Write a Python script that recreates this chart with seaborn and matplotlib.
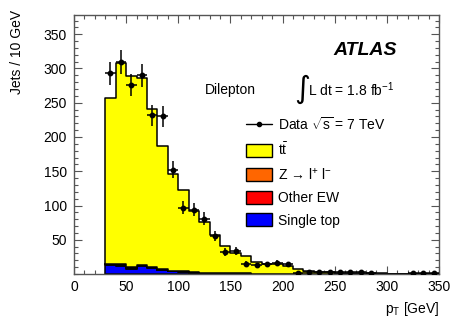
import numpy as np
import pandas as pd
import matplotlib.pyplot as plt
import seaborn as sns
from matplotlib.lines import Line2D
from matplotlib.patches import Patch
from matplotlib.ticker import MultipleLocator

# bins de pT dos jatos (GeV), largura de 10 GeV
bin_edges = [30, 40, 50, 60, 70, 80, 90, 100, 110, 120, 130, 140, 150, 160, 170, 180,
             190, 200, 210, 220, 230, 240, 250, 260, 270, 280, 290, 300, 310, 320, 330, 340, 350]
bin_centers = [35, 45, 55, 65, 75, 85, 95, 105, 115, 125, 135, 145, 155, 165, 175, 185,
               195, 205, 215, 225, 235, 245, 255, 265, 275, 285, 295, 305, 315, 325, 335, 345]

# previsoes (jatos / 10 GeV)
ttbar = [242, 294, 279, 272, 231, 180, 141, 119, 89, 74, 56, 40, 30, 25, 17, 14,
         14, 11.5, 6.7, 4.2, 3.3, 2.3, 1.8, 1.6, 1.4, 1.1, 0.9, 0.7, 0.6, 0.4, 0.3, 0.2]
z_ll = [1.0, 1.2, 1.0, 0.8, 0.7, 0.6, 0.5, 0.4, 0.3, 0.3, 0.2, 0.2, 0.1, 0.1, 0.1, 0.1,
        0.1, 0.1, 0.05, 0.05, 0.05, 0.05, 0, 0, 0, 0, 0, 0, 0, 0, 0, 0]
other_ew = [1.0, 1.0, 0.8, 0.8, 0.6, 0.5, 0.4, 0.3, 0.2, 0.2, 0.2, 0.1, 0.1, 0.1, 0.1, 0.05,
            0.05, 0.05, 0, 0, 0, 0, 0, 0, 0, 0, 0, 0, 0, 0, 0, 0]
single_top = [13, 12, 8, 12, 9, 6, 4, 3.5, 2, 1.5, 1.2, 1.0, 0.8, 0.6, 0.5, 0.4,
              0.3, 0.3, 0.2, 0.2, 0.1, 0.1, 0.1, 0.1, 0.05, 0.05, 0.05, 0.05, 0.05, 0.05, 0.05, 0.05]

# dados observados
data_pt = [35, 45, 55, 65, 75, 85, 95, 105, 115, 125, 135, 145, 155, 165, 175, 185,
           195, 205, 215, 225, 235, 245, 255, 265, 275, 285, 325, 335, 345]
data_n = [293, 309, 276, 290, 232, 230, 152, 97, 94, 81, 56, 32, 33, 15, 13, 14,
          16, 14, 1, 3, 3, 3, 3, 3, 3, 1, 1, 1, 2]

proc_names = ['ttbar', 'Z', 'Other EW', 'Single top']
proc_colors = ['#ffff00', '#ff6600', '#ff0000', '#0000ff']

df = pd.concat([
    pd.DataFrame({'pt': bin_centers, 'n': vals, 'proc': name})
    for name, vals in zip(proc_names, [ttbar, z_ll, other_ew, single_top])
])

sns.set_style('ticks')
plt.rcParams['font.family'] = ['Liberation Sans', 'DejaVu Sans']
plt.rcParams['mathtext.fontset'] = 'custom'
plt.rcParams['mathtext.rm'] = 'Liberation Sans'
plt.rcParams['mathtext.it'] = 'Liberation Sans'
plt.rcParams['mathtext.sf'] = 'Liberation Sans'
plt.rcParams['text.color'] = 'black'
plt.rcParams['axes.labelcolor'] = 'black'

fig = plt.figure(figsize=(4.63, 3.27), dpi=100)
ax = fig.add_axes([0.1598, 0.162, 0.7884, 0.792])

sns.histplot(data=df, x='pt', weights='n', hue='proc', hue_order=proc_names,
             multiple='stack', bins=bin_edges, element='step',
             palette=dict(zip(proc_names, proc_colors)), alpha=1,
             edgecolor='black', linewidth=1.1, legend=False, ax=ax)

ax.errorbar(data_pt, data_n, xerr=5, yerr=np.sqrt(data_n), fmt='o', color='black',
            markersize=3.2, elinewidth=1.1, capsize=0, zorder=5)

ax.set_xlim(0, 350)
ax.set_ylim(0, 378)
ax.set_xticks([0, 50, 100, 150, 200, 250, 300, 350])
ax.set_yticks([50, 100, 150, 200, 250, 300, 350])
ax.xaxis.set_minor_locator(MultipleLocator(10))
ax.yaxis.set_minor_locator(MultipleLocator(10))
ax.tick_params(which='both', direction='in', top=True, right=True, color='#555555',
               labelcolor='black', labelsize=10, width=0.8)
ax.tick_params(which='major', length=6)
ax.tick_params(which='minor', length=3)
ax.tick_params(axis='x', pad=4.5)
ax.tick_params(axis='y', pad=5)
for s in ax.spines.values():
    s.set_color('#555555')
    s.set_linewidth(1)

ax.set_ylabel('Jets / 10 GeV', fontsize=10, loc='top')
ax.yaxis.set_label_coords(-0.137, 1.019)
ax.set_xlabel(r'p$_{\mathrm{T}}$ [GeV]', fontsize=10, loc='right')
ax.xaxis.set_label_coords(1.0, -0.1)

fig.text(0.857, 0.847, 'ATLAS', fontsize=14, fontweight='bold', fontstyle='italic',
         ha='right', va='center')
fig.text(0.443, 0.725, 'Dilepton', fontsize=10, ha='left', va='center')
fig.text(0.652, 0.728, '\u222b', fontsize=22, family=['DejaVu Sans'], ha='center', va='center')
fig.text(0.665, 0.725, r'L dt = 1.8 fb$^{-1}$', fontsize=10, ha='left', va='center')

handles = [
    Line2D([], [], color='black', marker='o', markersize=3, lw=1),
    Patch(facecolor=proc_colors[0], edgecolor='black'),
    Patch(facecolor=proc_colors[1], edgecolor='black'),
    Patch(facecolor=proc_colors[2], edgecolor='black'),
    Patch(facecolor=proc_colors[3], edgecolor='black'),
]
labels = [r'Data $\sqrt{\mathrm{s}}$ = 7 TeV', r't$\bar{\mathrm{t}}$',
          'Z \u2192 l$^{+}$ l$^{-}$', 'Other EW', 'Single top']
fig.legend(handles, labels, loc='upper left', bbox_to_anchor=(0.531, 0.645),
           frameon=False, fontsize=10, borderpad=0, borderaxespad=0,
           handlelength=1.87, handleheight=1.08, handletextpad=0.43, labelspacing=0.6)

fig.savefig('out.png', dpi=100)
